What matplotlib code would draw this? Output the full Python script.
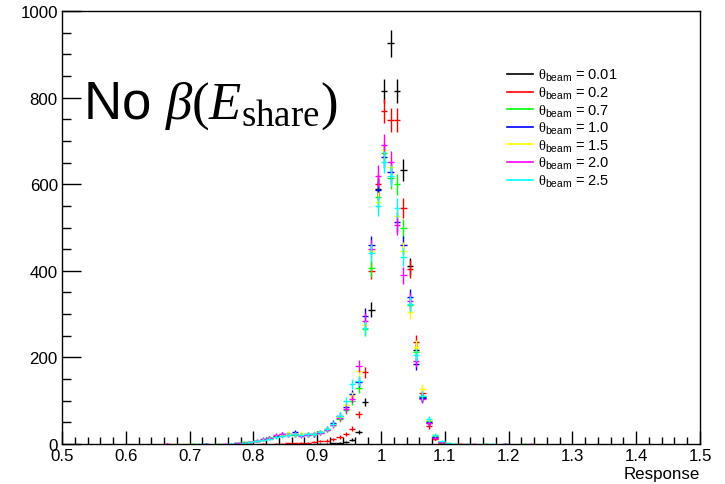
# Response histograms for several beam angles, ROOT-style error bars
import numpy as np
import matplotlib
matplotlib.use('Agg')
import matplotlib.pyplot as plt
from matplotlib.lines import Line2D
from matplotlib.ticker import MultipleLocator, FuncFormatter

plt.rcParams['font.family'] = ['Liberation Sans', 'DejaVu Sans']
plt.rcParams['mathtext.fontset'] = 'custom'
plt.rcParams['mathtext.rm'] = 'Liberation Sans'
plt.rcParams['mathtext.it'] = 'Liberation Serif:italic'
plt.rcParams['mathtext.sf'] = 'Liberation Serif'

# bin centres, 0.01 wide bins
centers = np.round(np.linspace(0.655, 1.245, 60), 3)

labels = ["0.01", "0.2", "0.7", "1.0", "1.5", "2.0", "2.5"]
colors = ["#000000", "#ff0000", "#00ff00", "#0000ff", "#ffff00", "#ff00ff", "#00ffff"]

black = [0, 0, 0, 0, 0, 0, 0, 0, 0, 0,
         0, 0, 0, 0, 0, 0, 0, 0, 0, 0,
         0, 0, 0, 1, 0, 1, 1, 2, 3, 5,
         10, 28, 97, 310, 590, 815, 925, 815, 632, 410,
         218, 108, 48, 14, 4, 1, 0, 0, 0, 0,
         0, 0, 0, 0, 0, 0, 0, 0, 0, 0]
red = [0, 1, 0, 0, 0, 0, 0, 0, 0, 0,
       0, 0, 0, 0, 0, 0, 1, 0, 1, 1,
       2, 2, 3, 3, 5, 6, 8, 11, 16, 23,
       35, 69, 166, 400, 600, 769, 748, 748, 545, 404,
       236, 118, 42, 12, 3, 1, 0, 1, 0, 0,
       0, 0, 0, 0, 0, 0, 0, 0, 0, 0]
green = [0, 0, 0, 0, 0, 1, 0, 0, 0, 1,
         0, 1, 2, 4, 5, 8, 12, 15, 18, 20,
         22, 20, 22, 20, 22, 27, 33, 45, 58, 78,
         100, 129, 265, 406, 570, 672, 614, 600, 498, 321,
         212, 111, 52, 18, 5, 2, 1, 0, 0, 0,
         0, 1, 0, 0, 0, 0, 0, 1, 0, 0]
blue = [0, 0, 0, 0, 0, 0, 0, 1, 0, 0,
        0, 0, 2, 3, 5, 7, 10, 14, 18, 22,
        23, 28, 20, 22, 22, 28, 35, 48, 65, 85,
        115, 143, 296, 460, 587, 663, 628, 513, 460, 340,
        185, 107, 50, 17, 4, 1, 0, 0, 0, 0,
        0, 0, 0, 0, 1, 0, 0, 0, 0, 0]
yellow = [0, 0, 1, 0, 1, 0, 0, 0, 0, 0,
          0, 0, 1, 3, 4, 6, 10, 14, 17, 20,
          24, 22, 24, 23, 24, 27, 34, 45, 62, 90,
          110, 168, 275, 445, 559, 679, 640, 527, 445, 305,
          225, 127, 55, 20, 5, 2, 0, 0, 0, 0,
          0, 0, 0, 0, 0, 0, 0, 0, 0, 1]
magenta = [0, 1, 0, 0, 0, 0, 0, 0, 0, 0,
           1, 0, 2, 3, 5, 8, 12, 15, 20, 22,
           20, 22, 18, 20, 22, 26, 33, 44, 60, 81,
           104, 180, 285, 450, 619, 690, 651, 505, 390, 330,
           192, 104, 49, 15, 4, 1, 0, 0, 0, 1,
           0, 0, 0, 0, 0, 0, 0, 0, 1, 0]
cyan = [0, 0, 0, 0, 0, 0, 1, 0, 0, 0,
        0, 1, 1, 2, 5, 6, 10, 12, 16, 18,
        20, 22, 20, 22, 23, 28, 35, 46, 65, 99,
        138, 145, 268, 441, 550, 651, 620, 545, 432, 323,
        205, 111, 58, 21, 6, 2, 1, 0, 1, 0,
        0, 0, 1, 0, 0, 0, 0, 0, 0, 0]

series = [black, red, green, blue, yellow, magenta, cyan]

fig = plt.figure(figsize=(7.25, 4.85), dpi=100)
ax = fig.add_axes([62 / 725, 40 / 485, 638 / 725, 433 / 485])

handles = []
for lab, col, counts in zip(labels, colors, series):
    counts = np.array(counts, dtype=float)
    m = counts > 0
    ax.errorbar(centers[m], counts[m], xerr=0.005, yerr=np.sqrt(counts[m]),
                fmt='none', ecolor=col, elinewidth=1, capsize=0)
    handles.append(Line2D([], [], color=col, lw=1.2,
                          label=r"$\mathsf{\theta}_{\mathrm{beam}}$ = " + lab))

ax.set_xlim(0.5, 1.5)
ax.set_ylim(0, 1000)

ax.xaxis.set_major_locator(MultipleLocator(0.1))
ax.xaxis.set_minor_locator(MultipleLocator(0.02))
ax.yaxis.set_major_locator(MultipleLocator(200))
ax.yaxis.set_minor_locator(MultipleLocator(50))
ax.xaxis.set_major_formatter(FuncFormatter(lambda v, p: "%g" % round(v, 2)))

ax.tick_params(axis='x', which='major', direction='in', length=9.4, width=1,
               labelsize=12.2, pad=3)
ax.tick_params(axis='x', which='minor', direction='in', length=4.7, width=1)
ax.tick_params(axis='y', which='major', direction='in', length=13.7, width=1,
               labelsize=12.2, pad=3)
ax.tick_params(axis='y', which='minor', direction='in', length=6.8, width=1)
for s in ax.spines.values():
    s.set_linewidth(1)

ax.set_xlabel("Response", loc='right', fontsize=12.2, labelpad=2)

ax.text(0.033, 0.753, r"No $\beta\mathsf{(}E_{\mathsf{share}}\mathsf{)}$",
        transform=ax.transAxes, fontsize=38, va='baseline', ha='left')

ax.legend(handles=handles, loc='upper left', bbox_to_anchor=(0.697, 0.87),
          frameon=False, fontsize=10.5, handlelength=1.8, handletextpad=0.35,
          labelspacing=0.1, borderpad=0, borderaxespad=0)

fig.savefig("out.png", dpi=100)
